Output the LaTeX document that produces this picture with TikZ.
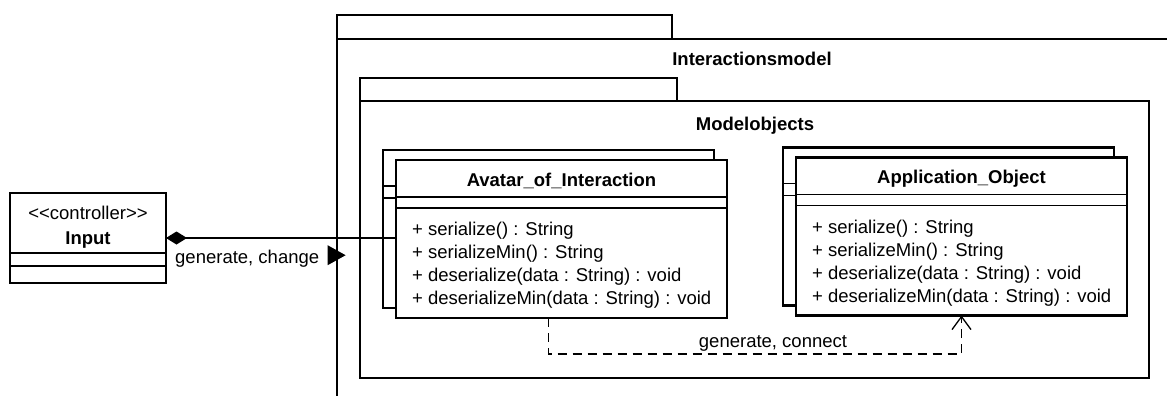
\documentclass[tikz,border=0pt]{standalone}
\usepackage{fontspec}
\setmainfont{Liberation Sans}
\usetikzlibrary{arrows.meta, positioning, shapes.geometric, calc}

\newcommand{\umlfont}{\fontsize{18.5}{23}\selectfont}
\newcommand{\umlopslist}{+ serialize() : String\\+ serializeMin() : String\\+ deserialize(data : String) : void\\+ deserializeMin(data : String) : void}

\tikzset{
    umlframe/.style={rectangle, draw=black, line width=2.6pt, inner sep=0pt, outer sep=0pt, anchor=north west},
    umlclass/.style={rectangle, draw=black, fill=white, line width=2.6pt, inner sep=0pt, outer sep=0pt, minimum width=331pt, minimum height=158pt},
    umlsep/.style={draw=black, line width=1.3pt},
    umltext/.style={font=\umlfont, inner sep=0pt},
    umltitle/.style={font=\umlfont\bfseries, inner sep=0pt, anchor=base},
    umlops/.style={font=\umlfont, align=left, anchor=north west, inner sep=0pt},
    dirmark/.style={isosceles triangle, isosceles triangle stretches, fill=black, inner sep=0pt, minimum width=20pt, minimum height=18pt},
    umlcomp/.style={{Diamond[length=21pt, width=13pt]}-, line width=1.3pt},
    umldep/.style={-{Straight Barb[length=13pt, width=19pt, line width=1.3pt]}, dash pattern=on 9pt off 6pt, line width=1.3pt}
}

\begin{document}
\begin{tikzpicture}[x=1pt, y=-1pt]
\clip (0,0) rectangle (1167,396);
\fill[white] (0,0) rectangle (1167,396);

% package Interactionsmodel
\node[umlframe, minimum width=335pt, minimum height=24pt] (imtab) at (337,15) {};
\node[umlframe, minimum width=900pt, minimum height=420pt] (imbody) at (imtab.south west) {};
\node[umltitle] (imtitle) at (752,66) {Interactionsmodel};

% package Modelobjects
\node[umlframe, minimum width=317pt, minimum height=23pt] (motab) at (360,78) {};
\node[umlframe, minimum width=789pt, minimum height=277pt] (mobody) at (motab.south west) {};
\node[umltitle] (motitle) at (755,130) {Modelobjects};

% Avatar_of_Interaction
\node[umlclass] (avatarback) at (548.5,229) {};
\draw[umlsep] ([yshift=-36pt]avatarback.north west) -- ([yshift=-36pt]avatarback.north east);
\draw[umlsep] ([yshift=-48pt]avatarback.north west) -- ([yshift=-48pt]avatarback.north east);
\node[umlclass] (avatar) at (561.5,239) {};
\draw[umlsep] ([yshift=-37pt]avatar.north west) -- ([yshift=-37pt]avatar.north east);
\draw[umlsep] ([yshift=-48pt]avatar.north west) -- ([yshift=-48pt]avatar.north east);
\node[umltitle] (avatarname) at ([yshift=-26pt]avatar.north) {Avatar\_of\_Interaction};
\node[umlops] (avatarops) at ([xshift=16pt, yshift=-62pt]avatar.north west) {\umlopslist};

% Application_Object
\node[umlclass] (appback) at (948.5,226.5) {};
\draw[umlsep] ([yshift=-36pt]appback.north west) -- ([yshift=-36pt]appback.north east);
\draw[umlsep] ([yshift=-48pt]appback.north west) -- ([yshift=-48pt]appback.north east);
\node[umlclass] (app) at (961.5,236.5) {};
\draw[umlsep] ([yshift=-37pt]app.north west) -- ([yshift=-37pt]app.north east);
\draw[umlsep] ([yshift=-48pt]app.north west) -- ([yshift=-48pt]app.north east);
\node[umltitle] (appname) at ([yshift=-26pt]app.north) {Application\_Object};
\node[umlops] (appops) at ([xshift=16pt, yshift=-62pt]app.north west) {\umlopslist};

% Input controller
\node[umlclass, minimum width=156pt, minimum height=90pt] (input) at (88,238) {};
\draw[umlsep] ([yshift=-60pt]input.north west) -- ([yshift=-60pt]input.north east);
\draw[umlsep] ([yshift=-73pt]input.north west) -- ([yshift=-73pt]input.north east);
\node[umltext, anchor=base] (inputstereo) at ([yshift=-26pt]input.north) {\mbox{<}\mbox{<}controller\mbox{>}\mbox{>}};
\node[umltitle] (inputname) at ([yshift=-51pt]input.north) {Input};

% connectors
\draw[umlcomp] (input.east) -- (input.east -| avatar.west);
\node[umltext, anchor=base west] (changelabel) at ([xshift=9pt, yshift=-25pt]input.east) {generate, change};
\node[dirmark, right=8pt of changelabel, yshift=3pt] (changedir) {};

\draw[umldep] (avatarback.center |- avatar.south) -- ++(0,36) -| (app.south)
    node[umltext, pos=0.25, above=2pt, xshift=18pt] (connectlabel) {generate, connect};

\end{tikzpicture}
\end{document}
